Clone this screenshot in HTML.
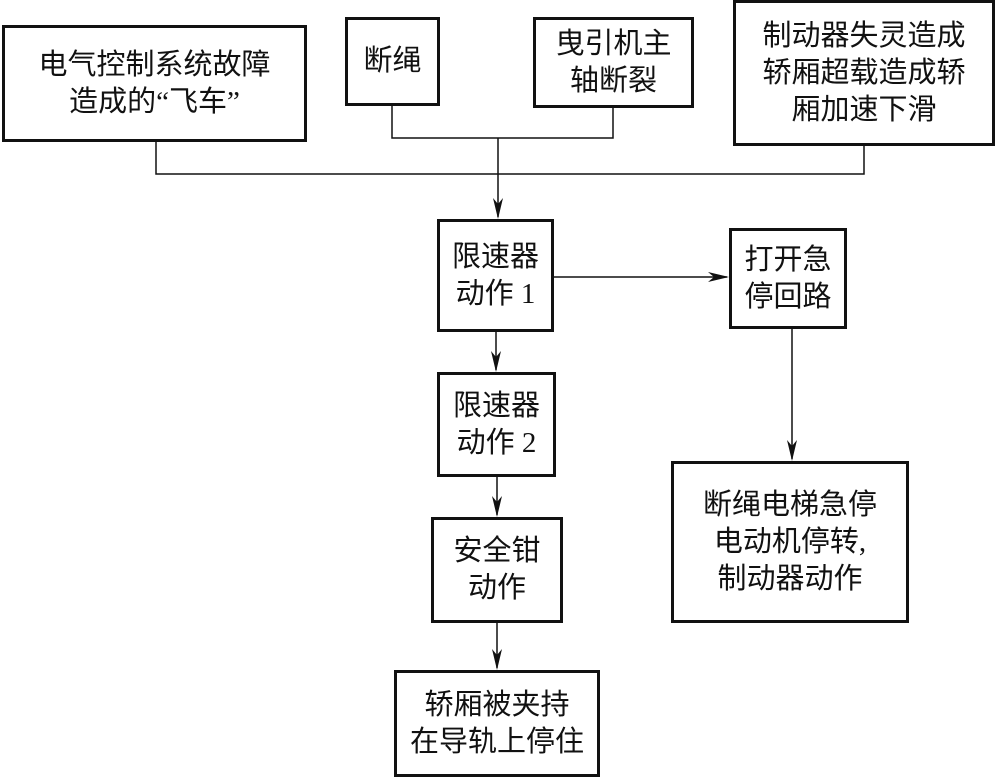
<!DOCTYPE html>
<html><head><meta charset="utf-8"><style>
body{margin:0;width:997px;height:778px;background:#fff;position:relative;overflow:hidden;font-family:"Liberation Serif","Noto Sans CJK SC",sans-serif;color:#111}
.b{position:absolute;border:3px solid #111;box-sizing:border-box;display:flex;align-items:center;justify-content:center;text-align:center;font-size:29px;line-height:37px}
svg{position:absolute;left:0;top:0}
</style></head><body>
<svg width="997" height="778" stroke="#111" stroke-width="1.5" fill="none">
<path d="M392 106V138H613V108"/>
<path d="M156 142V174H864V146"/>
<path d="M498 138V217"/>
<path d="M554 277H727"/>
<path d="M792 329V459"/>
<path d="M496 332V370"/>
<path d="M497 477V515"/>
<path d="M497 623V668"/>
<g fill="#111" stroke="none">
<path d="M498 219L493 198L498 204L503 198Z"/>
<path d="M729 277L708 272L714 277L708 282Z"/>
<path d="M792 461L787 440L792 446L797 440Z"/>
<path d="M496 372L491 351L496 357L501 351Z"/>
<path d="M497 517L492 496L497 502L502 496Z"/>
<path d="M497 670L492 649L497 655L502 649Z"/>
</g>
</svg>
<div class="b" style="left:2px;top:25px;width:305px;height:117px">电气控制系统故障<br>造成的“飞车”</div>
<div class="b" style="left:345px;top:17px;width:95px;height:89px">断绳</div>
<div class="b" style="left:533px;top:17px;width:161px;height:91px">曳引机主<br>轴断裂</div>
<div class="b" style="left:733px;top:0px;width:262px;height:146px">制动器失灵造成<br>轿厢超载造成轿<br>厢加速下滑</div>
<div class="b" style="left:437px;top:219px;width:117px;height:113px">限速器<br>动作 1</div>
<div class="b" style="left:729px;top:228px;width:118px;height:101px">打开急<br>停回路</div>
<div class="b" style="left:437px;top:372px;width:119px;height:105px">限速器<br>动作 2</div>
<div class="b" style="left:431px;top:517px;width:132px;height:106px">安全钳<br>动作</div>
<div class="b" style="left:671px;top:461px;width:238px;height:162px">断绳电梯急停<br>电动机停转,<br>制动器动作</div>
<div class="b" style="left:394px;top:670px;width:206px;height:107px">轿厢被夹持<br>在导轨上停住</div>
</body></html>
